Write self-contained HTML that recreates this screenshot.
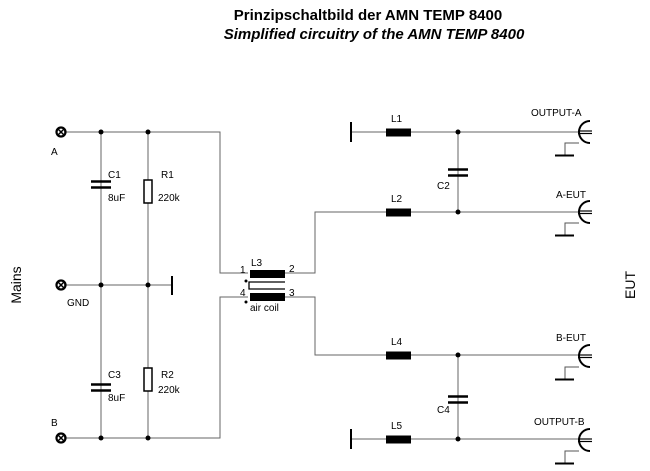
<!DOCTYPE html>
<html><head><meta charset="utf-8"><style>
html,body{margin:0;padding:0;background:#fff;}
svg{display:block;font-family:"Liberation Sans",Arial,sans-serif;}
</style></head><body>
<svg width="650" height="471" viewBox="0 0 650 471" xmlns="http://www.w3.org/2000/svg">
<defs>
<g id="term"><circle cx="0" cy="0" r="4.5" fill="none" stroke="#000" stroke-width="2.2"/><path d="M-3,-3L3,3M-3,3L3,-3" stroke="#000" stroke-width="1.5"/></g>
<g id="conn" fill="none" stroke="#000">
<path d="M590,121 A11,11 0 1 0 590,143" stroke-width="2"/>
<line x1="578" y1="131" x2="592" y2="131" stroke-width="1.2"/>
<line x1="578" y1="133.5" x2="592" y2="133.5" stroke-width="1.2"/>
<path d="M579,143 L565,143 L565,155" stroke="#555" stroke-width="1"/>
<line x1="555" y1="155.5" x2="574" y2="155.5" stroke-width="2"/>
</g>
</defs>
<text x="368" y="20" font-size="15" font-weight="bold" text-anchor="middle">Prinzipschaltbild der AMN TEMP 8400</text>
<text x="374" y="39" font-size="15" font-weight="bold" font-style="italic" text-anchor="middle">Simplified circuitry of the AMN TEMP 8400</text>
<text transform="translate(21,285) rotate(-90)" font-size="14" text-anchor="middle">Mains</text>
<text transform="translate(635,285) rotate(-90)" font-size="14" text-anchor="middle">EUT</text>
<g stroke="#666" stroke-width="1" fill="none">
<path d="M64,132H220V273H248"/>
<path d="M64,285H172"/>
<path d="M64,438H220V297H248"/>
<path d="M101,132V438M148,132V438"/>
<path d="M285,273H315V212H578"/>
<path d="M285,297H315V355H578"/>
<path d="M351,132H578M351,439H578"/>
<path d="M458,132V212M458,355V439"/>
</g>
<g stroke="#000" fill="none">
<path d="M285,282H249V289H285" stroke-width="1.3"/>
<line x1="172" y1="276" x2="172" y2="295" stroke-width="2"/>
<line x1="351" y1="122" x2="351" y2="142" stroke-width="2"/>
<line x1="351" y1="429" x2="351" y2="449" stroke-width="2"/>
<path d="M91,181.5H111M91,187.5H111M91,384.5H111M91,390.5H111" stroke-width="2.5"/>
<path d="M448,169.5H468M448,175.5H468M448,396.5H468M448,402.5H468" stroke-width="2.5"/>
<rect x="144" y="180" width="8" height="23" fill="#fff" stroke-width="1.5"/>
<rect x="144" y="368" width="8" height="23" fill="#fff" stroke-width="1.5"/>
</g>
<g fill="#000">
<rect x="386" y="128.5" width="25" height="8"/>
<rect x="386" y="208.5" width="25" height="8"/>
<rect x="386" y="351.5" width="25" height="8"/>
<rect x="386" y="435.5" width="25" height="8"/>
<rect x="250" y="270" width="35" height="8"/>
<rect x="250" y="293" width="35" height="8"/>
<circle cx="101" cy="132" r="2.5"/><circle cx="148" cy="132" r="2.5"/>
<circle cx="101" cy="285" r="2.5"/><circle cx="148" cy="285" r="2.5"/>
<circle cx="101" cy="438" r="2.5"/><circle cx="148" cy="438" r="2.5"/>
<circle cx="458" cy="132" r="2.5"/><circle cx="458" cy="212" r="2.5"/>
<circle cx="458" cy="355" r="2.5"/><circle cx="458" cy="439" r="2.5"/>
<circle cx="246" cy="281" r="1.5"/><circle cx="246" cy="302" r="1.5"/>
</g>
<use href="#term" x="61" y="132"/>
<use href="#term" x="61" y="285"/>
<use href="#term" x="61" y="438"/>
<use href="#conn"/>
<use href="#conn" y="80"/>
<use href="#conn" y="224"/>
<use href="#conn" y="308"/>
<g font-size="10" fill="#000">
<text x="51" y="155">A</text>
<text x="67" y="306">GND</text>
<text x="51" y="426">B</text>
<text x="108" y="178">C1</text><text x="108" y="201">8uF</text>
<text x="161" y="178">R1</text><text x="158" y="201">220k</text>
<text x="108" y="378">C3</text><text x="108" y="401">8uF</text>
<text x="161" y="378">R2</text><text x="158" y="393">220k</text>
<text x="251" y="266">L3</text>
<text x="240" y="273">1</text><text x="289" y="272">2</text>
<text x="240" y="296">4</text><text x="289" y="296">3</text>
<text x="250" y="311">air coil</text>
<text x="391" y="122">L1</text><text x="391" y="202">L2</text>
<text x="391" y="345">L4</text><text x="391" y="429">L5</text>
<text x="437" y="189">C2</text><text x="437" y="413">C4</text>
<text x="531" y="116">OUTPUT-A</text>
<text x="556" y="198">A-EUT</text>
<text x="556" y="341">B-EUT</text>
<text x="534" y="425">OUTPUT-B</text>
</g>
</svg>
</body></html>
